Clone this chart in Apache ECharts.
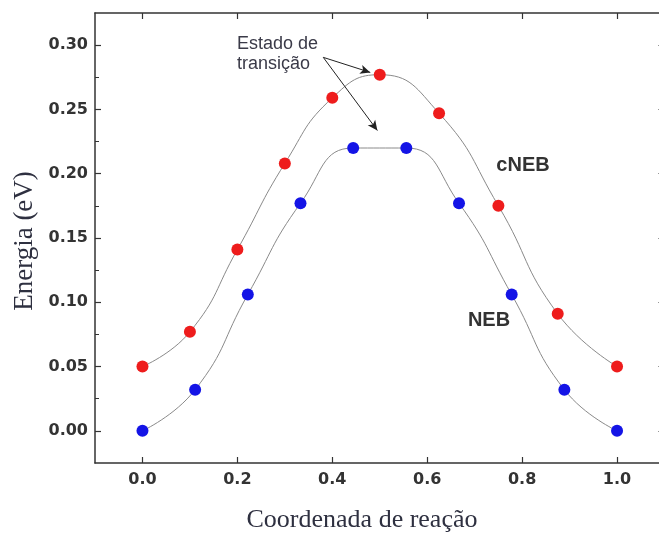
<!DOCTYPE html>
<html>
<head>
<meta charset="utf-8">
<script src="https://cdn.jsdelivr.net/npm/echarts@6/dist/echarts.min.js"></script>
<style>
  html, body { margin: 0; padding: 0; background: #fff; }
  #chart { width: 659px; height: 534px; }
</style>
</head>
<body>
<div id="chart"></div>
<script>
// ---- data ----
const cnebX = [0, 0.1, 0.2, 0.3, 0.4, 0.5, 0.625, 0.75, 0.875, 1.0];
const cnebY = [0.050, 0.077, 0.141, 0.208, 0.259, 0.277, 0.247, 0.175, 0.091, 0.050];
const nebX = [0, 0.111, 0.222, 0.333, 0.444, 0.556, 0.667, 0.778, 0.889, 1.0];
const nebY = [0.000, 0.032, 0.106, 0.177, 0.220, 0.220, 0.177, 0.106, 0.032, 0.000];
const xTicks = [0, 0.2, 0.4, 0.6, 0.8, 1.0];
const yTicks = [0, 0.05, 0.1, 0.15, 0.2, 0.25, 0.3];
const yMinorTicks = [0.025, 0.075, 0.125, 0.175, 0.225, 0.275];
// annotation arrows (data coordinates)
const arrowStart = [0.381, 0.2905];
const arrowEnds = [[0.480, 0.2788], [0.495, 0.2336]];

const chart = echarts.init(document.getElementById('chart'), null, { renderer: 'canvas' });

const axisColor = '#333';
const tickFont = { fontFamily: 'DejaVu Sans', fontWeight: 'bold', fontSize: 16, color: '#333' };
const lineOpts = { show: true, onZero: false, lineStyle: { color: axisColor, width: 1.5 } };

const option = {
  animation: false,
  backgroundColor: '#fff',
  grid: { left: 95, top: 13, right: -5.5, bottom: 71, containLabel: false, outerBoundsMode: 'none' },
  xAxis: [
    {
      type: 'value', position: 'bottom', min: -0.1, max: 1.1,
      axisLine: lineOpts,
      axisTick: { show: true, inside: true, length: 6, customValues: xTicks, lineStyle: { color: axisColor, width: 1.2 } },
      axisLabel: { show: true, margin: 9, customValues: xTicks, formatter: v => v.toFixed(1), ...tickFont },
      splitLine: { show: false }
    },
    {
      type: 'value', position: 'top', min: -0.1, max: 1.1,
      axisLine: lineOpts,
      axisTick: { show: true, inside: true, length: 6, customValues: xTicks, lineStyle: { color: axisColor, width: 1.2 } },
      axisLabel: { show: false },
      splitLine: { show: false }
    }
  ],
  yAxis: [
    {
      type: 'value', position: 'left', min: -0.025, max: 0.325,
      axisLine: lineOpts,
      axisTick: { show: true, inside: true, length: 6, customValues: yTicks, lineStyle: { color: axisColor, width: 1.2 } },
      axisLabel: { show: true, margin: 7, customValues: yTicks, formatter: v => v.toFixed(2), ...tickFont },
      splitLine: { show: false }
    },
    {
      type: 'value', position: 'left', min: -0.025, max: 0.325,
      axisLine: { show: false, onZero: false },
      axisTick: { show: true, inside: true, length: 4, customValues: yMinorTicks, lineStyle: { color: axisColor, width: 1 } },
      axisLabel: { show: false },
      splitLine: { show: false }
    },
    {
      type: 'value', position: 'right', min: -0.025, max: 0.325,
      axisLine: lineOpts,
      axisTick: { show: true, inside: true, length: 6, customValues: yTicks, lineStyle: { color: axisColor, width: 1.2 } },
      axisLabel: { show: false },
      splitLine: { show: false }
    }
  ],
  series: [
    {
      name: 'cNEB', type: 'line', smooth: 0.5,
      data: cnebX.map((x, i) => [x, cnebY[i]]),
      symbol: 'circle', symbolSize: 12, showAllSymbol: true,
      lineStyle: { color: '#8a8a8a', width: 1 },
      itemStyle: { color: '#ee1c1c' },
      z: 3,
      markLine: {
        silent: true, animation: false,
        symbol: ['none', 'arrow'], symbolSize: [7, 10],
        label: { show: false },
        lineStyle: { color: '#222', width: 1, type: 'solid' },
        data: arrowEnds.map(e => [{ coord: arrowStart }, { coord: e }])
      }
    },
    {
      name: 'NEB', type: 'line', smooth: 0.5,
      data: nebX.map((x, i) => [x, nebY[i]]),
      symbol: 'circle', symbolSize: 12, showAllSymbol: true,
      lineStyle: { color: '#8a8a8a', width: 1 },
      itemStyle: { color: '#1414e6' },
      z: 3
    }
  ],
  graphic: [
    {
      type: 'text', left: 237, top: 34,
      style: { text: 'Estado de\ntransição', fontFamily: 'Liberation Sans', fontSize: 18, lineHeight: 20, fill: '#3a3a48' }
    },
    {
      type: 'text', x: 523, y: 165,
      style: { text: 'cNEB', fontFamily: 'Liberation Sans', fontWeight: 'bold', fontSize: 20, fill: '#333', align: 'center', verticalAlign: 'middle' }
    },
    {
      type: 'text', x: 489, y: 320,
      style: { text: 'NEB', fontFamily: 'Liberation Sans', fontWeight: 'bold', fontSize: 20, fill: '#333', align: 'center', verticalAlign: 'middle' }
    },
    {
      type: 'text', x: 362, y: 520,
      style: { text: 'Coordenada de reação', fontFamily: 'Liberation Serif', fontSize: 26, fill: '#2e3040', align: 'center', verticalAlign: 'middle' }
    },
    {
      type: 'text', x: 25, y: 241, rotation: Math.PI / 2,
      style: { text: 'Energia (eV)', fontFamily: 'Liberation Serif', fontSize: 27, fill: '#2e3040', align: 'center', verticalAlign: 'middle' }
    }
  ]
};
chart.setOption(option);
</script>
</body>
</html>
